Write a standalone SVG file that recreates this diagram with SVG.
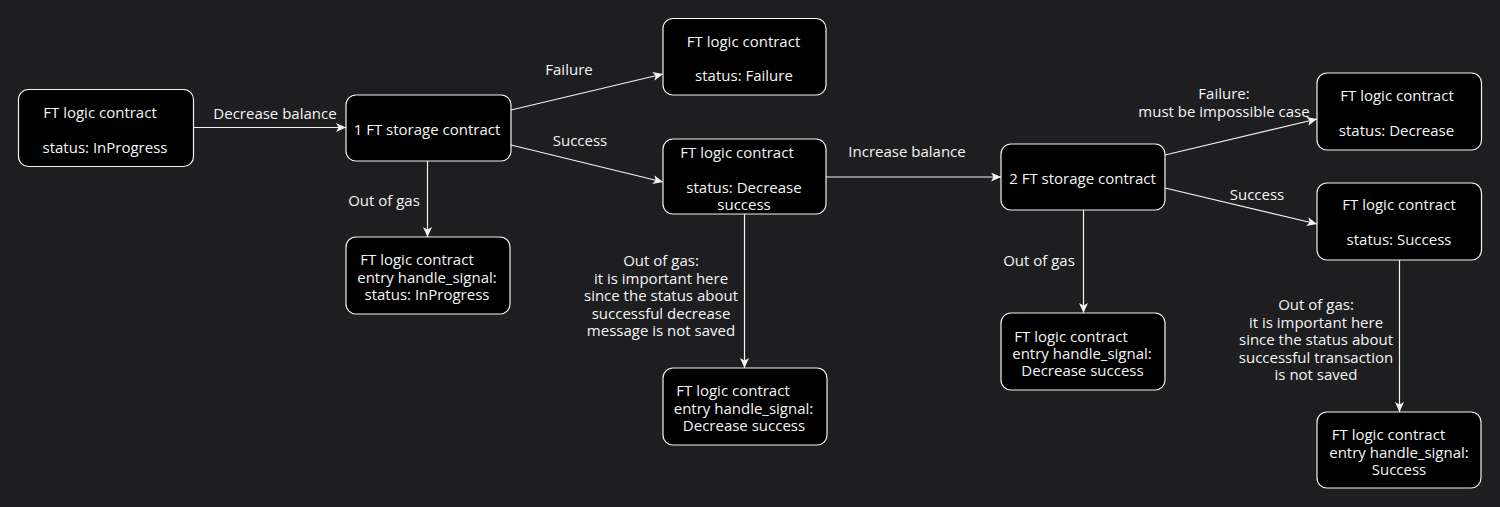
<svg xmlns="http://www.w3.org/2000/svg" width="1500" height="507" viewBox="0 0 1500 507">
<defs>
<marker id="arr" markerUnits="userSpaceOnUse" markerWidth="11" markerHeight="9" refX="10" refY="4.5" orient="auto">
<path d="M0,0 L10,4.5 L0,9 L2.5,4.5 Z" fill="#f2f2f2"/>
</marker>
<style>
.bg{fill:#1e1e20}
.node rect{fill:#000;stroke:#f2f2f2;stroke-width:1.2}
text{font-family:"Comic Sans MS","Open Sans","Liberation Sans",sans-serif;font-size:15px;fill:#f4f4f4;text-anchor:middle;dominant-baseline:central}
.edge{stroke:#f2f2f2;stroke-width:1.2;fill:none;marker-end:url(#arr)}
</style>
</defs>
<rect class="bg" x="0" y="0" width="1500" height="507"/>

<g id="connectors">
<line class="edge" x1="193.5" y1="127.5" x2="346" y2="127.5"/>
<line class="edge" x1="511" y1="110" x2="663" y2="74"/>
<line class="edge" x1="511" y1="145" x2="663" y2="182"/>
<line class="edge" x1="427.5" y1="161" x2="427.5" y2="237"/>
<line class="edge" x1="744.5" y1="214" x2="744.5" y2="368"/>
<line class="edge" x1="826" y1="177" x2="1001" y2="177"/>
<line class="edge" x1="1165" y1="155" x2="1317" y2="119"/>
<line class="edge" x1="1165" y1="188" x2="1317" y2="224"/>
<line class="edge" x1="1083.5" y1="210" x2="1083.5" y2="313"/>
<line class="edge" x1="1399.5" y1="260" x2="1399.5" y2="412"/>
<g id="edge-labels">
<text x="275" y="112.5">Decrease balance</text>
<text x="569" y="69">Failure</text>
<text x="580" y="140">Success</text>
<text x="384" y="200">Out of gas</text>
<text x="661" y="260">Out of gas:</text>
<text x="661" y="277.5">it is important here</text>
<text x="661" y="295">since the status about</text>
<text x="661" y="312.5">successful decrease</text>
<text x="661" y="330">message is not saved</text>
<text x="907" y="150.5">Increase balance</text>
<text x="1224" y="92.5">Failure:</text>
<text x="1224" y="110.5">must be impossible case</text>
<text x="1257" y="194">Success</text>
<text x="1039" y="260">Out of gas</text>
<text x="1316" y="304">Out of gas:</text>
<text x="1316" y="321.5">it is important here</text>
<text x="1316" y="339">since the status about</text>
<text x="1316" y="356.5">successful transaction</text>
<text x="1316" y="374">is not saved</text>
</g>
</g>

<g id="n1" class="node">
<rect x="18.5" y="89.5" width="175" height="77" rx="10"/>
<text x="100" y="112">FT logic contract</text>
<text x="105" y="146.5">status: InProgress</text>
</g>
<g id="n2" class="node">
<rect x="346" y="95" width="165" height="66" rx="10"/>
<text x="427" y="129">1 FT storage contract</text>
</g>
<g id="n3" class="node">
<rect x="663" y="18.5" width="163" height="76.5" rx="10"/>
<text x="743.5" y="40.5">FT logic contract</text>
<text x="744" y="75">status: Failure</text>
</g>
<g id="n4" class="node">
<rect x="663" y="139" width="163" height="75" rx="10"/>
<text x="737" y="151.5">FT logic contract</text>
<text x="744" y="186.5">status: Decrease</text>
<text x="744" y="204">success</text>
</g>
<g id="n5" class="node">
<rect x="346" y="237" width="164" height="77" rx="10"/>
<text x="417" y="259">FT logic contract</text>
<text x="427" y="276.5">entry handle_signal:</text>
<text x="427" y="293.5">status: InProgress</text>
</g>
<g id="n6" class="node">
<rect x="663" y="368" width="164" height="77" rx="10"/>
<text x="733" y="390">FT logic contract</text>
<text x="743.5" y="407.5">entry handle_signal:</text>
<text x="744" y="425">Decrease success</text>
</g>
<g id="n7" class="node">
<rect x="1001" y="144" width="164" height="66" rx="10"/>
<text x="1082.5" y="178">2 FT storage contract</text>
</g>
<g id="n8" class="node">
<rect x="1317" y="73" width="164.5" height="77" rx="10"/>
<text x="1397" y="95">FT logic contract</text>
<text x="1396.5" y="130">status: Decrease</text>
</g>
<g id="n9" class="node">
<rect x="1317" y="183" width="164.5" height="77" rx="10"/>
<text x="1399" y="204">FT logic contract</text>
<text x="1399" y="239">status: Success</text>
</g>
<g id="n10" class="node">
<rect x="1001" y="313" width="164" height="77" rx="10"/>
<text x="1071" y="335.5">FT logic contract</text>
<text x="1082" y="353">entry handle_signal:</text>
<text x="1082.5" y="370">Decrease success</text>
</g>
<g id="n11" class="node">
<rect x="1317" y="412" width="164" height="76" rx="10"/>
<text x="1388.5" y="434">FT logic contract</text>
<text x="1399" y="451.5">entry handle_signal:</text>
<text x="1399" y="468.5">Success</text>
</g>
</svg>
